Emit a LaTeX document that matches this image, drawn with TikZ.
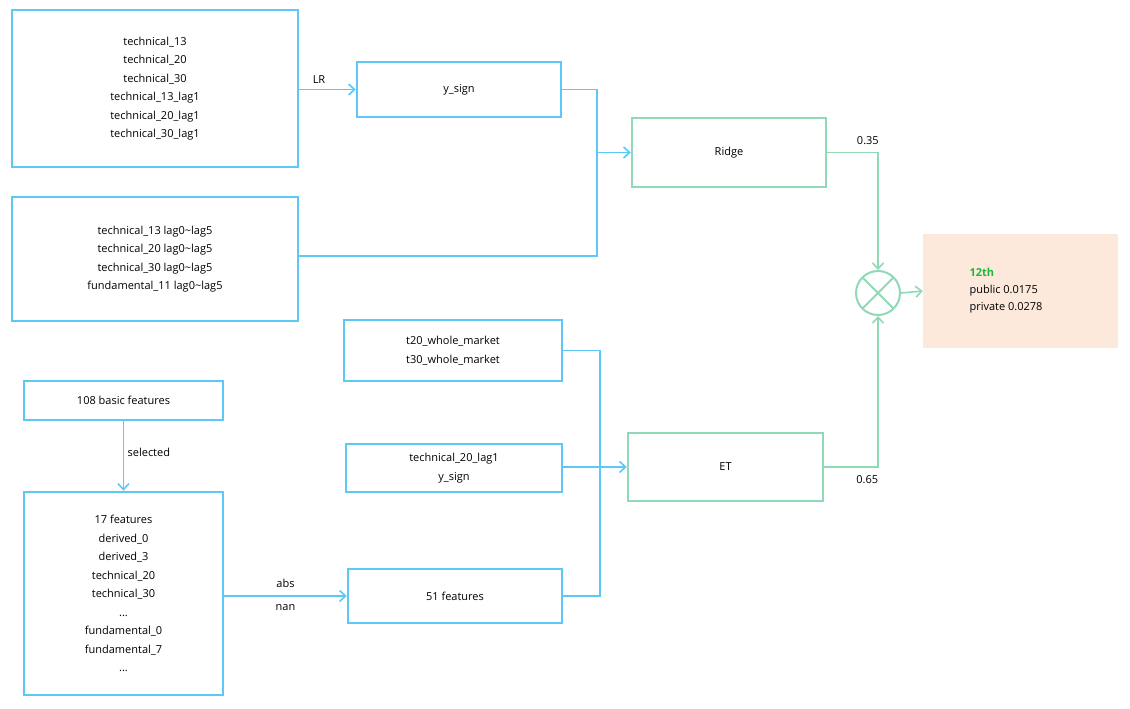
\documentclass[tikz,border=0pt]{standalone}
\usepackage{fontspec}
\setmainfont{Open Sans}
\usetikzlibrary{arrows.meta,calc}
\definecolor{bl}{HTML}{5BC8F5}
\definecolor{gr}{HTML}{8FD9B6}
\definecolor{pe}{HTML}{FDE9DC}
\definecolor{wn}{HTML}{1FB53C}
\begin{document}
\begin{tikzpicture}[x=1pt,y=-1pt,
 box/.style={draw=bl,line width=2.5pt,align=center,inner sep=0pt,font=\fontsize{11}{18.5}\selectfont},
 gbox/.style={draw=gr,line width=2.5pt,align=center,inner sep=0pt,font=\fontsize{11}{18.5}\selectfont},
 ln/.style={draw=bl,line width=1.6pt},
 gln/.style={draw=gr,line width=1.6pt},
 ar/.style={-{Straight Barb[length=6pt,width=11pt]}},
 lab/.style={font=\fontsize{11}{13}\selectfont}]
\useasboundingbox (0,0) rectangle (1130,709);
\newcommand{\bx}[5]{\node[#1,minimum width=#4-#2,minimum height=0pt] (#5) at ({(#2+#4)/2},0) {};}
\node[box,minimum width=286pt,minimum height=157pt] (A) at (155,88.5) {technical\_13\\technical\_20\\technical\_30\\technical\_13\_lag1\\technical\_20\_lag1\\technical\_30\_lag1};
\node[box,minimum width=286pt,minimum height=124pt] (B) at (155,259) {technical\_13 lag0\textasciitilde lag5\\technical\_20 lag0\textasciitilde lag5\\technical\_30 lag0\textasciitilde lag5\\fundamental\_11 lag0\textasciitilde lag5};
\node[box,minimum width=204pt,minimum height=55pt] (Y) at (459,89.5) {y\_sign};
\node[gbox,minimum width=194pt,minimum height=69pt] (R) at (729,152.5) {Ridge};
\node[gbox,minimum width=195pt,minimum height=68pt] (ET) at (725.5,467) {ET};
\node[box,minimum width=218pt,minimum height=61pt] (C) at (453,350.5) {t20\_whole\_market\\t30\_whole\_market};
\node[box,minimum width=216pt,minimum height=48pt] (D) at (454,468) {technical\_20\_lag1\\y\_sign};
\node[box,minimum width=214pt,minimum height=54pt] (E) at (455,596) {51 features};
\node[box,minimum width=199pt,minimum height=39pt] (F) at (123.5,400.5) {108 basic features};
\node[box,minimum width=199pt,minimum height=203pt] (G) at (123.5,593.5) {17 features\\derived\_0\\derived\_3\\technical\_20\\technical\_30\\...\\fundamental\_0\\fundamental\_7\\...};
\node[circle,draw=gr,line width=2pt,minimum size=44pt,inner sep=0pt] (X) at (878,293) {};
\draw[gr,line width=2pt] ($(X)+(-15.5,-15.5)$) -- ($(X)+(15.5,15.5)$) ($(X)+(-15.5,15.5)$) -- ($(X)+(15.5,-15.5)$);
\node[fill=pe,minimum width=195pt,minimum height=114pt,inner sep=0pt] (Res) at (1020.5,291) {};
\node[anchor=west,align=left,font=\fontsize{11}{17}\selectfont] (ResT) at (966,291) {\textcolor{wn}{\textbf{12th}}\\public 0.0175\\private 0.0278};
% connectors
\draw[ln,ar] (A.east|-Y) -- node[lab,above,pos=0.35,yshift=2pt]{LR} (Y.west);
\coordinate (j1) at (597,152.5);
\draw[ln] (Y.east) -| (j1);
\draw[ln] (B.east|-0,256) -| (j1);
\draw[ln,ar] (j1) -- (R.west);
\coordinate (j2) at (600,467);
\draw[ln] (C.east) -| (j2);
\draw[ln] (E.east) -| (j2);
\draw[ln,ar] (D.east|-j2) -- (ET.west);
\draw[ln,ar] (F.south) -- node[lab,right,pos=0.45]{selected} (G.north);
\draw[ln,ar] (G.east|-E) -- node[lab,above,yshift=4pt]{abs} node[lab,below,yshift=-4pt]{nan} (E.west);
\draw[gln,ar] (R.east) -| node[lab,above,pos=0.4,yshift=4pt]{0.35} (X.north);
\draw[gln,ar] (ET.east) -| node[lab,below,pos=0.4,yshift=-4pt]{0.65} (X.south);
\draw[gln,ar] (X.east) -- (Res.west);
\end{tikzpicture}
\end{document}
